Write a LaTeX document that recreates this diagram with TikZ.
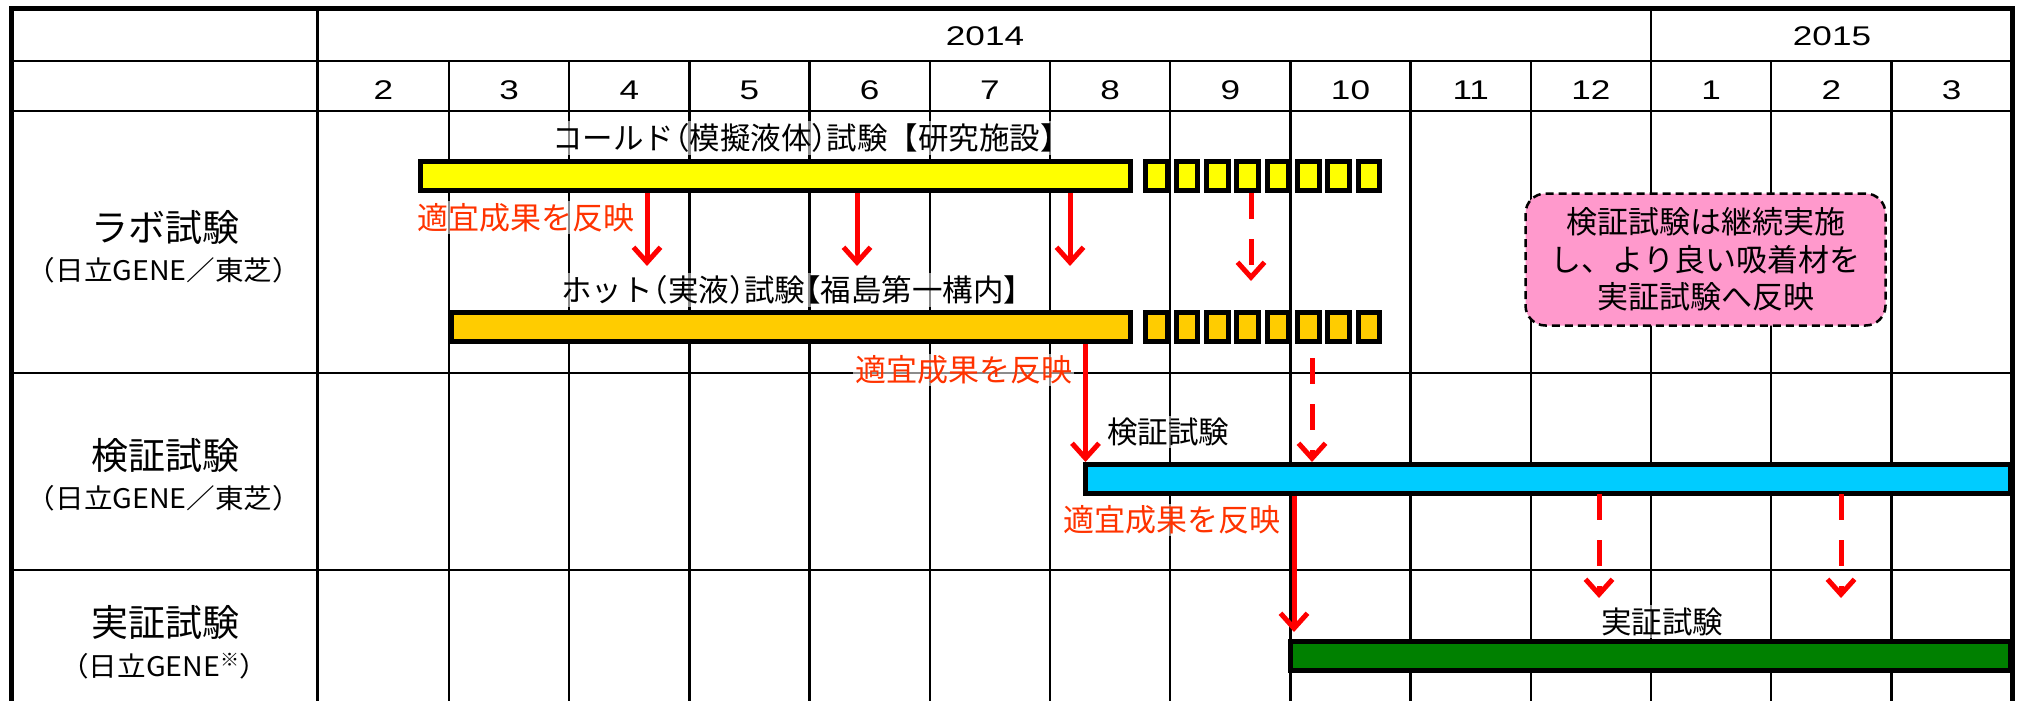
\documentclass[tikz,border=0pt]{standalone}
\usepackage{fontspec}
\setmainfont{Noto Sans CJK JP}
\newfontfamily\jphalt[RawFeature=+halt]{Noto Sans CJK JP}
\newfontfamily\subfont[FakeStretch=1.06]{Noto Sans CJK JP}
\newfontfamily\digfont[FakeStretch=1.3]{Liberation Sans}
\usetikzlibrary{arrows.meta}
\definecolor{cyel}{HTML}{FFFF00}
\definecolor{corg}{HTML}{FFCC00}
\definecolor{ccyan}{HTML}{00CCFF}
\definecolor{cgreen}{HTML}{008000}
\definecolor{cred}{HTML}{FF0000}
\definecolor{credtext}{HTML}{FF3300}
\definecolor{cpink}{HTML}{FF99CC}
\tikzset{
  gridline/.style={line width=2.5pt, draw=black},
  border/.style={line width=5pt, draw=black, line join=miter},
  bar/.style={line width=5pt, draw=black},
  redarrow/.style={line width=5pt, draw=cred, -{Straight Barb[length=15pt,width=27pt]}},
  reddash/.style={redarrow, dash pattern=on 26pt off 20pt},
  lbl/.style={fill=white, fill opacity=0.55, text opacity=1, inner sep=2pt},
  digit/.style={inner sep=0pt, font=\digfont\fontsize{27pt}{30pt}\selectfont},
  rowlab/.style={inner sep=0pt, font=\fontsize{37pt}{40pt}\selectfont},
  rowsub/.style={inner sep=0pt, font=\subfont\fontsize{27pt}{30pt}\selectfont},
  barlab/.style={lbl, font=\jphalt\fontsize{30.5pt}{36pt}\selectfont},
  redlab/.style={lbl, text=credtext, font=\fontsize{31pt}{36pt}\selectfont},
  notebox/.style={draw=black, fill=cpink, line width=2.5pt, dash pattern=on 8pt off 5pt,
    rounded corners=20pt, minimum width=360pt, minimum height=132pt, align=center,
    inner sep=0pt, font=\fontsize{31pt}{37.5pt}\selectfont}
}
\begin{document}
\begin{tikzpicture}[x=1pt, y=-1pt]
\path[use as bounding box] (0,0) rectangle (2018,701);
% grid
\foreach \yy in {61,111,373,570} \draw[gridline] (11,\yy) -- (2012,\yy);
\draw[gridline] (317.5,9) -- (317.5,705);
\draw[gridline] (1651,9) -- (1651,61);
\foreach \k in {0,...,12} \draw[gridline] ({449+120.2*\k},61) -- ({449+120.2*\k},705);
\draw[border] (11,705) -- (11,9) -- (2012,9) -- (2012,705);
% header texts
\node[digit] (y2014) at (985,36) {2014};
\node[digit] (y2015) at (1832,36) {2015};
\node[digit] (m0) at (383.5,90) {2};
\foreach \lab [count=\k] in {3,4,5,6,7,8,9,10,11,12,1,2,3}
  \node[digit] (m\k) at ({449+120.2*(\k-0.5)},90) {\lab};
% row labels
\node[rowlab] (lab) at (165,227) {ラボ試験};
\node[rowsub] (labsub) at (164,270) {（日立GENE／東芝）};
\node[rowlab] (ver) at (165,456) {検証試験};
\node[rowsub] (versub) at (164,498) {（日立GENE／東芝）};
\node[rowlab] (dem) at (165,622) {実証試験};
\node[rowsub] (demsub) at (164,666) {（日立GENE\raisebox{0.35em}{\fontsize{18pt}{18pt}\selectfont ※}）};
% note box
\node[notebox] (note) at (1705.5,259.5) {検証試験は継続実施\\し、より良い吸着材を\\実証試験へ反映};
% labels
\node[barlab] (coldlab) at (804,138) {コールド（模擬液体）試験\hspace{0.5em}【研究施設】};
\node[barlab] (hotlab) at (790,290) {ホット（実液）試験【福島第一構内】};
\node[barlab] (verlab) at (1168,432) {検証試験};
\node[barlab] (demlab) at (1662,621.5) {実証試験};
\node[redlab] (red1) at (525.5,217.5) {適宜成果を反映};
\node[redlab] (red2) at (963.5,370) {適宜成果を反映};
\node[redlab] (red3) at (1172,520) {適宜成果を反映};
% bars
\draw[bar, fill=cyel] (420.5,161.5) rectangle (1130.5,190.5);
\foreach \k in {0,...,7} \draw[bar, fill=cyel] ({1145.8+30.35*\k},161.5) rectangle ++(21.7,29);
\draw[bar, fill=corg] (451,312.5) rectangle (1130.5,341.5);
\foreach \k in {0,...,7} \draw[bar, fill=corg] ({1145.8+30.35*\k},312.5) rectangle ++(21.7,29);
\draw[bar, fill=ccyan] (1085.5,464.5) rectangle (2010,493.5);
\draw[bar, fill=cgreen] (1290.5,641.5) rectangle (2010,670.5);
% arrows
\coordinate (a1s) at (647,193);  \coordinate (a1e) at (647,266);
\coordinate (a2s) at (857,193);  \coordinate (a2e) at (857,266);
\coordinate (a3s) at (1070,193); \coordinate (a3e) at (1070,266);
\coordinate (a4s) at (1251,193); \coordinate (a4e) at (1251,281);
\coordinate (a5s) at (1085.5,344); \coordinate (a5e) at (1085.5,462);
\coordinate (a6s) at (1312,358); \coordinate (a6e) at (1312,462);
\coordinate (a7s) at (1294,496); \coordinate (a7e) at (1294,632);
\coordinate (a8s) at (1599,494); \coordinate (a8e) at (1599,598);
\coordinate (a9s) at (1841,494); \coordinate (a9e) at (1841,598);
\draw[redarrow] (a1s) -- (a1e);
\draw[redarrow] (a2s) -- (a2e);
\draw[redarrow] (a3s) -- (a3e);
\draw[reddash] (a4s) -- (a4e);
\draw[redarrow] (a5s) -- (a5e);
\draw[reddash] (a6s) -- (a6e);
\draw[redarrow] (a7s) -- (a7e);
\draw[reddash] (a8s) -- (a8e);
\draw[reddash] (a9s) -- (a9e);
\end{tikzpicture}
\end{document}
